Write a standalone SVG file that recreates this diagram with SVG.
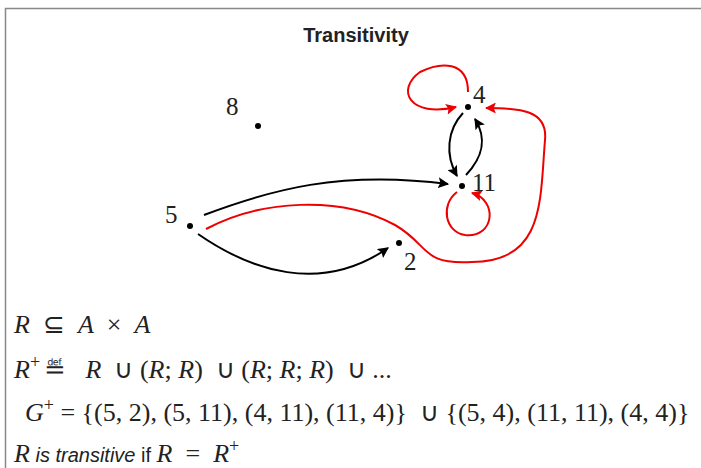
<svg xmlns="http://www.w3.org/2000/svg" width="701" height="468" viewBox="0 0 701 468">
<style>
.frame{fill:#fff;stroke:#888;stroke-width:1.5}
.title{font-family:"Liberation Sans",Arial,sans-serif;font-weight:bold;font-size:20px;fill:#222}
.lbl{font-family:"Liberation Serif","Times New Roman",serif;font-size:25px;fill:#222}
.m{font-family:"Liberation Serif","Times New Roman",serif;font-size:26px;fill:#222;white-space:pre}
.i{font-style:italic}
.s{font-family:"Liberation Sans",Arial,sans-serif;font-size:20px}
.sup{font-size:18px}
.e{fill:none;stroke:#000;stroke-width:2}
.r{fill:none;stroke:#e00;stroke-width:2}
</style>
<defs>
<marker id="ab" viewBox="0 0 10 10" refX="9" refY="5" markerWidth="11" markerHeight="11" markerUnits="userSpaceOnUse" orient="auto"><path d="M0,0 L10,5 L0,10 L2,5 z" fill="#000"/></marker>
<marker id="ar" viewBox="0 0 10 10" refX="9" refY="5" markerWidth="11" markerHeight="11" markerUnits="userSpaceOnUse" orient="auto"><path d="M0,0 L10,5 L0,10 L2,5 z" fill="#e00"/></marker>
</defs>
<rect class="frame" x="5.5" y="8.5" width="720" height="480"/>
<text class="title" x="356" y="42" text-anchor="middle">Transitivity</text>
<g id="connectors">
<path class="e" d="M204,215 C270,190 340,170 448,184" marker-end="url(#ab)"/>
<path class="e" d="M198,234 C250,270 320,295 388,248" marker-end="url(#ab)"/>
<path class="r" d="M206,229 C260,200 340,195 395,225 C430,245 420,265 472,262 C545,262 540,200 545,140 C548,110 520,108 486,108" marker-end="url(#ar)"/>
<path class="r" d="M468,92 C468,60 440,62 420,72 C395,90 410,118 456,107" marker-end="url(#ar)"/>
<path class="r" d="M457,192 C440,205 445,232 465,235 C495,238 498,200 472,193" marker-end="url(#ar)"/>
<path class="e" d="M463,113 C447,130 445,155 457,176" marker-end="url(#ab)"/>
<path class="e" d="M466,175 C482,158 488,140 475,119" marker-end="url(#ab)"/>
</g>
<g id="n8"><circle cx="258" cy="126" r="3"/><text class="lbl" x="226" y="115">8</text></g>
<g id="n4"><circle cx="468" cy="107" r="3"/><text class="lbl" x="473" y="103">4</text></g>
<g id="n11"><circle cx="462" cy="186" r="3"/><text class="lbl" x="472" y="191">11</text></g>
<g id="n5"><circle cx="190" cy="226" r="3"/><text class="lbl" x="165" y="223">5</text></g>
<g id="n2"><circle cx="399" cy="243" r="3"/><text class="lbl" x="404" y="270">2</text></g>
<g id="text">
<text class="m" x="14" y="333"><tspan class="i">R</tspan>  ⊆  <tspan class="i">A</tspan>  ×  <tspan class="i">A</tspan></text>
<text class="m" x="14" y="378"><tspan class="i">R</tspan><tspan class="sup" dy="-10">+</tspan><tspan dy="10" dx="4">≝</tspan>   <tspan class="i">R</tspan>  ∪ (<tspan class="i">R</tspan>; <tspan class="i">R</tspan>)  ∪ (<tspan class="i">R</tspan>; <tspan class="i">R</tspan>; <tspan class="i">R</tspan>)  ∪ ...</text>
<text class="m" x="25" y="421"><tspan class="i">G</tspan><tspan class="sup" dy="-10">+</tspan><tspan dy="10"> = {(5, 2), (5, 11), (4, 11), (11, 4)}  ∪ {(5, 4), (11, 11), (4, 4)}</tspan></text>
<text class="m" x="14" y="462"><tspan class="i">R</tspan><tspan class="s i"> is transitive</tspan><tspan class="s"> if </tspan><tspan class="i">R</tspan>  =  <tspan class="i">R</tspan><tspan class="sup" dy="-10">+</tspan></text>
</g>
</svg>
